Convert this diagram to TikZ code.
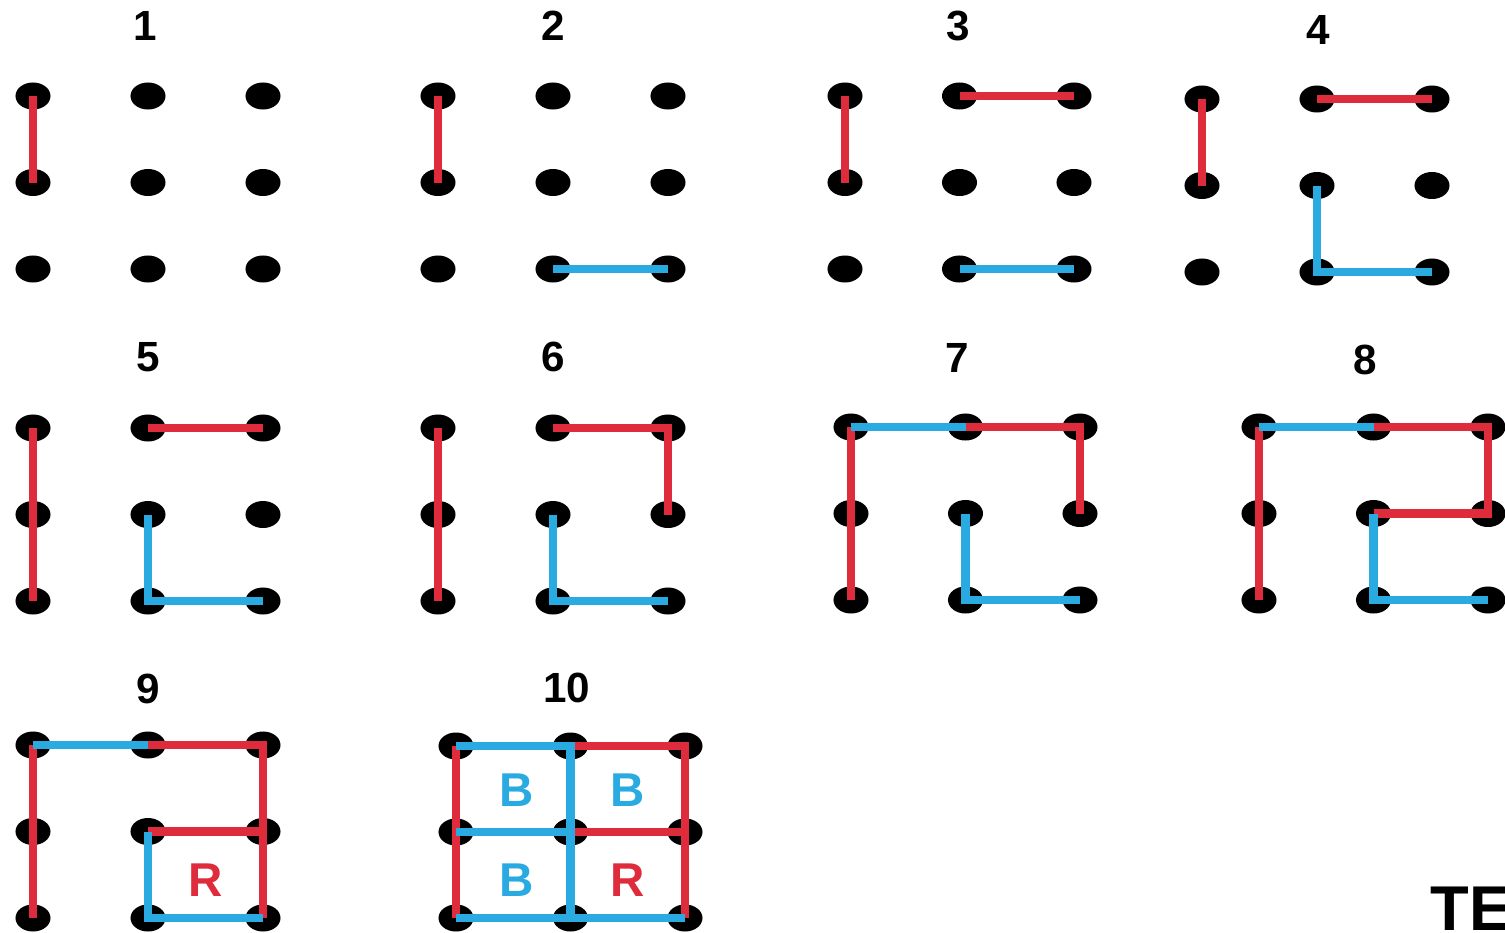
\documentclass[tikz,border=0pt]{standalone}
\usepackage{fontspec}
\setmainfont{Liberation Sans}
\usetikzlibrary{shapes.geometric}
\definecolor{rd}{RGB}{222,44,60}
\definecolor{bl}{RGB}{41,171,226}
\tikzset{
  dot/.style={ellipse, fill=black, minimum width=0.35cm, minimum height=0.27cm, inner sep=0pt},
  redline/.style={draw=rd, line width=2.3pt},
  blueline/.style={draw=bl, line width=2.3pt},
  num/.style={font=\fontsize{12}{13}\selectfont\bfseries, inner sep=0pt},
  boxlet/.style={font=\fontsize{13.5}{15}\selectfont\bfseries, inner sep=0pt},
  mark text/.style={font=\fontsize{18}{20}\selectfont\bfseries, inner sep=0pt, anchor=north west},
}
\newcommand\dotgrid[5]{%
  \foreach \c in {0,1,2}{\foreach \r in {0,1,2}{%
    \node[dot] (#1-\c\r) at ({#2+#4*\c},{#3+#5*\r}) {};}}}
\begin{document}
\begin{tikzpicture}[x=0.01cm, y=-0.01cm]
\clip (0,0) rectangle (1505,933);
\useasboundingbox (0,0) rectangle (1505,933);
\fill[white] (0,0) rectangle (1505,933);
% dot grids
\dotgrid{p1}{33}{96}{115}{86.5}
\dotgrid{p2}{438}{96}{115}{86.5}
\dotgrid{p3}{845}{96}{114.5}{86.5}
\dotgrid{p4}{1202}{99}{115}{86.5}
\dotgrid{p5}{33}{428}{115}{86.5}
\dotgrid{p6}{438}{428}{115}{86.5}
\dotgrid{p7}{851}{427}{114.5}{86.5}
\dotgrid{p8}{1259}{427}{114.5}{86.5}
\dotgrid{p9}{33}{745}{115}{86.5}
\dotgrid{p10}{456}{746}{114.5}{86}
% labels
\node[num] (l1) at (145,26) {1};
\node[num] (l2) at (553,26) {2};
\node[num] (l3) at (958,26) {3};
\node[num] (l4) at (1318,30) {4};
\node[num] (l5) at (148,357) {5};
\node[num] (l6) at (553,357) {6};
\node[num] (l7) at (957,358) {7};
\node[num] (l8) at (1365,360) {8};
\node[num] (l9) at (148,689) {9};
\node[num] (l10) at (567,688) {10};
% panel 1
\draw[redline] (p1-00.center) -- (p1-01.center);
% panel 2
\draw[redline] (p2-00.center) -- (p2-01.center);
\draw[blueline] (p2-12.center) -- (p2-22.center);
% panel 3
\draw[redline] (p3-00.center) -- (p3-01.center);
\draw[redline] (p3-10.center) -- (p3-20.center);
\draw[blueline] (p3-12.center) -- (p3-22.center);
% panel 4
\draw[redline] (p4-00.center) -- (p4-01.center);
\draw[redline] (p4-10.center) -- (p4-20.center);
\draw[blueline] (p4-11.center) -- (p4-12.center) -- (p4-22.center);
% panel 5
\draw[redline] (p5-00.center) -- (p5-01.center) -- (p5-02.center);
\draw[redline] (p5-10.center) -- (p5-20.center);
\draw[blueline] (p5-11.center) -- (p5-12.center) -- (p5-22.center);
% panel 6
\draw[redline] (p6-00.center) -- (p6-01.center) -- (p6-02.center);
\draw[redline] (p6-10.center) -- (p6-20.center) -- (p6-21.center);
\draw[blueline] (p6-11.center) -- (p6-12.center) -- (p6-22.center);
% panel 7
\draw[redline] (p7-00.center) -- (p7-01.center) -- (p7-02.center);
\draw[redline] (p7-10.center) -- (p7-20.center) -- (p7-21.center);
\draw[blueline] (p7-11.center) -- (p7-12.center) -- (p7-22.center);
\draw[blueline] (p7-00.center) -- (p7-10.center);
% panel 8
\draw[redline] (p8-00.center) -- (p8-01.center) -- (p8-02.center);
\draw[redline] (p8-10.center) -- (p8-20.center) -- (p8-21.center) -- (p8-11.center);
\draw[blueline] (p8-11.center) -- (p8-12.center) -- (p8-22.center);
\draw[blueline] (p8-00.center) -- (p8-10.center);
% panel 9
\draw[redline] (p9-00.center) -- (p9-01.center) -- (p9-02.center);
\draw[redline] (p9-10.center) -- (p9-20.center) -- (p9-21.center) -- (p9-22.center);
\draw[redline] (p9-11.center) -- (p9-21.center);
\draw[blueline] (p9-11.center) -- (p9-12.center) -- (p9-22.center);
\draw[blueline] (p9-00.center) -- (p9-10.center);
\node[boxlet, text=rd] (r9) at (206,880) {R};
% panel 10
\draw[redline] (p10-00.center) -- (p10-01.center) -- (p10-02.center);
\draw[redline] (p10-10.center) -- (p10-20.center) -- (p10-21.center) -- (p10-22.center);
\draw[redline] (p10-11.center) -- (p10-21.center);
\draw[blueline] (p10-00.center) -- (p10-10.center) -- (p10-11.center) -- (p10-12.center);
\draw[blueline] (p10-01.center) -- (p10-11.center);
\draw[blueline] (p10-02.center) -- (p10-12.center) -- (p10-22.center);
\node[boxlet, text=bl] (b1) at (517,790) {B};
\node[boxlet, text=bl] (b2) at (628,790) {B};
\node[boxlet, text=bl] (b3) at (517,880) {B};
\node[boxlet, text=rd] (r10) at (628,880) {R};
% corner mark
\node[mark text] (te) at (1430,886) {TE};
\end{tikzpicture}
\end{document}
